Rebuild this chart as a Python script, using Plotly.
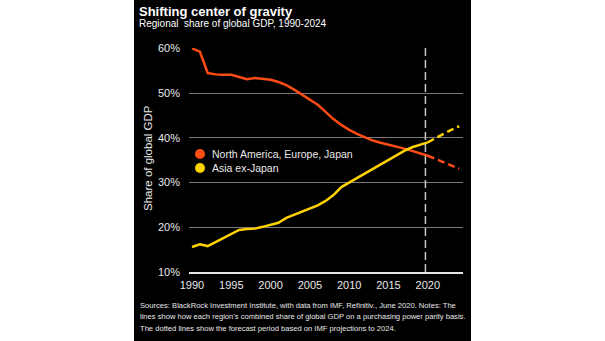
import plotly.graph_objects as go

# ---------------- data ----------------
years_hist = list(range(1990, 2021))
west_hist = [60.0, 59.3, 54.5, 54.2, 54.1, 54.1, 53.6, 53.1, 53.4, 53.2,
             53.0, 52.5, 51.8, 50.8, 49.7, 48.5, 47.4, 45.8, 44.2, 42.9,
             41.8, 40.9, 40.1, 39.4, 38.9, 38.5, 38.0, 37.6, 37.1, 36.6,
             36.0]
asia_hist = [15.6, 16.2, 15.8, 16.7, 17.7, 18.6, 19.4, 19.6, 19.7, 20.1,
             20.6, 21.0, 22.1, 22.8, 23.5, 24.1, 24.9, 25.9, 27.2, 29.0,
             30.0, 31.0, 32.0, 33.1, 34.1, 35.1, 36.1, 37.1, 37.9, 38.5,
             39.0]
years_fc = [2020, 2021, 2022, 2023, 2024]
west_fc = [36.0, 35.3, 34.6, 33.8, 33.1]
asia_fc = [39.0, 40.0, 40.9, 41.8, 42.6]

series_names = ["North America, Europe, Japan", "Asia ex-Japan"]
series_colors = ["#ff4b14", "#ffd100"]

forecast_start = 2019.7
y_ticks = [10, 20, 30, 40, 50, 60]
y_tick_labels = ["10%", "20%", "30%", "40%", "50%", "60%"]
x_ticks = [1990, 1995, 2000, 2005, 2010, 2015, 2020]

title = "Shifting center of gravity"
subtitle = "Regional  share of global GDP, 1990-2024"
y_title = "Share of global GDP"
footer_lines = [
    "Sources: BlackRock Investment Institute, with data from IMF, Refinitiv., June 2020. Notes: The",
    "lines show how each region's combined share of global GDP on a purchasing power parity basis.",
    "The dotted lines show the forecast period based on IMF projections to 2024.",
]

# ---------------- layout geometry ----------------
W, H = 605, 341
ML, MR, MT, MB = 189, 142, 48, 69
PW, PH = W - ML - MR, H - MT - MB


def px(x):
    return (x - ML) / PW


def py(y):
    return (H - MB - y) / PH


FONT = "Liberation Sans, Arial, sans-serif"

fig = go.Figure()

hist = [west_hist, asia_hist]
fc = [west_fc, asia_fc]
for name, color, h, f in zip(series_names, series_colors, hist, fc):
    fig.add_trace(go.Scatter(x=years_hist, y=h, mode="lines", name=name,
                             line=dict(color=color, width=2.5), showlegend=False,
                             hoverinfo="skip"))
    fig.add_trace(go.Scatter(x=years_fc, y=f, mode="lines", name=name + " forecast",
                             line=dict(color=color, width=2.5, dash="7px,4px"),
                             showlegend=False, hoverinfo="skip"))

shapes = [
    # black panel
    dict(type="rect", xref="paper", yref="paper", x0=px(134), x1=px(471),
         y0=py(341), y1=py(0), fillcolor="black", line=dict(width=0), layer="below"),
    # forecast divider
    dict(type="line", xref="x", yref="paper", x0=forecast_start, x1=forecast_start,
         y0=0, y1=1, line=dict(color="#c8c8c8", width=1.5, dash="8px,4px")),
]
annotations = []
legend_y = [154, 168]
for i, (name, color) in enumerate(zip(series_names, series_colors)):
    shapes.append(dict(type="circle", xref="paper", yref="paper",
                       xsizemode="pixel", ysizemode="pixel",
                       xanchor=px(200), yanchor=py(legend_y[i]),
                       x0=-5, x1=5, y0=-5, y1=5,
                       fillcolor=color, line=dict(width=0)))
    annotations.append(dict(text=name, xref="paper", yref="paper",
                            x=px(210), y=py(legend_y[i]), xanchor="left", yanchor="middle",
                            showarrow=False, font=dict(family=FONT, size=10.5, color="#e8e8e8")))

annotations += [
    dict(text="<b>" + title + "</b>", xref="paper", yref="paper", x=px(137), y=py(11),
         xanchor="left", yanchor="middle", showarrow=False,
         font=dict(family=FONT, size=13, color="white")),
    dict(text=subtitle, xref="paper", yref="paper", x=px(137), y=py(24),
         xanchor="left", yanchor="middle", showarrow=False,
         font=dict(family=FONT, size=10, color="white")),
    dict(text=y_title, xref="paper", yref="paper", x=px(148), y=py(158),
         xanchor="center", yanchor="middle", textangle=-90, showarrow=False,
         font=dict(family=FONT, size=11.5, color="#e8e8e8")),
]
footer_y = [305, 316.5, 328]
for line, yy in zip(footer_lines, footer_y):
    annotations.append(dict(text=line, xref="paper", yref="paper", x=px(138), y=py(yy),
                            xanchor="left", yanchor="middle", align="left", showarrow=False,
                            font=dict(family=FONT, size=7.6, color="#e8e8e8")))

fig.update_layout(
    width=W, height=H,
    margin=dict(l=ML, r=MR, t=MT, b=MB, pad=0),
    paper_bgcolor="white", plot_bgcolor="black",
    showlegend=False,
    shapes=shapes, annotations=annotations,
    font=dict(family=FONT, color="#e8e8e8", size=11),
)
fig.update_xaxes(range=[1989.62, 2024.48], tickvals=x_ticks, showgrid=False,
                 zeroline=False, showline=True, linecolor="#e6e6e6", linewidth=2,
                 ticks="", ticklabelstandoff=2,
                 tickfont=dict(family=FONT, size=11, color="#e8e8e8"))
fig.update_yaxes(range=[10, 60.1], tickvals=y_ticks, ticktext=y_tick_labels,
                 showgrid=True, gridcolor="#7a7a7a", gridwidth=1, zeroline=False,
                 showline=False, ticks="", ticklabelstandoff=8,
                 tickfont=dict(family=FONT, size=11, color="#e8e8e8"))

fig.write_html("out.html")
